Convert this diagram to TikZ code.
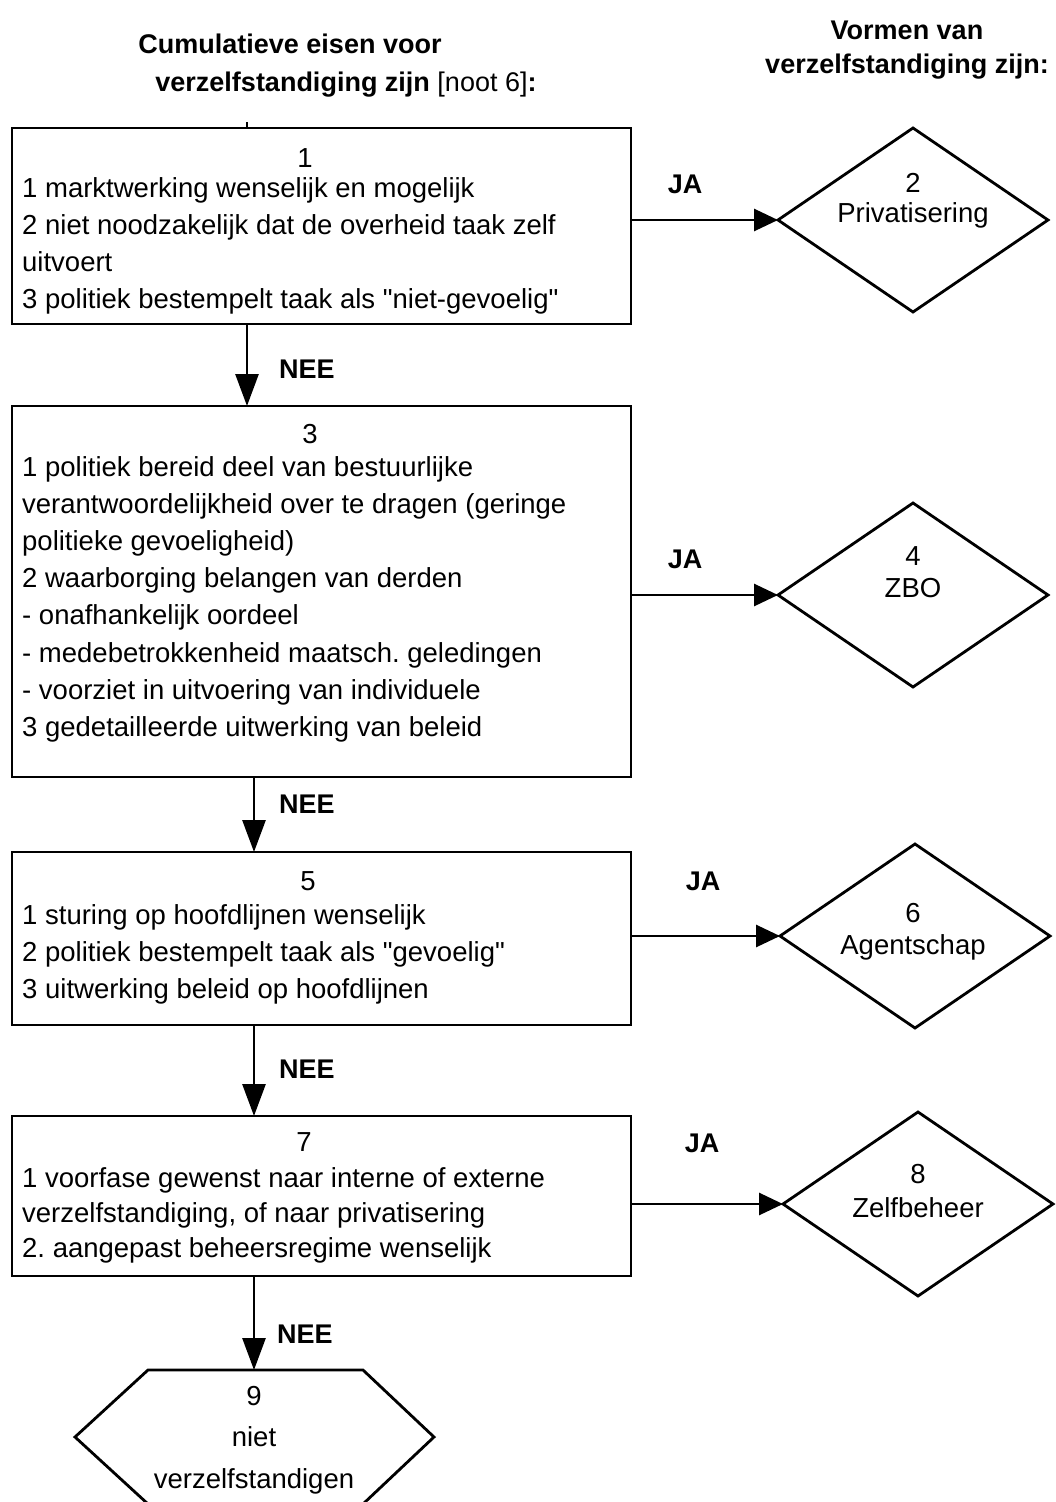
\documentclass[tikz,border=0pt]{standalone}
\usepackage{fontspec}
\setmainfont{Liberation Sans}[Ligatures=TeXOff]
\usetikzlibrary{arrows.meta,shapes.geometric,calc}

\tikzset{
  txt/.style={font=\fontsize{27.5}{37}\selectfont, inner sep=0pt},
  hd/.style={font=\fontsize{27}{32}\selectfont\bfseries, inner sep=0pt},
  lbl/.style={font=\fontsize{27}{32}\selectfont\bfseries, inner sep=0pt, anchor=base},
  box/.style={draw, line width=2.8pt, anchor=north west, inner sep=0pt, outer sep=0pt, minimum width=619pt},
  dia/.style={draw, diamond, line width=2.8pt, minimum width=270pt, minimum height=184pt, inner sep=0pt, outer sep=0pt},
  harrow/.style={line width=2.8pt, -{Triangle[length=24pt,width=22pt]}},
  varrow/.style={line width=2.8pt, -{Triangle[length=32pt,width=23pt]}},
}
\newcommand{\dq}{\symbol{"22}}

\begin{document}
\frenchspacing
\begin{tikzpicture}[x=1pt,y=-1pt]
\useasboundingbox (0,0) rectangle (1055,1502);

% column headings
\node[hd, anchor=base] (hl1) at (290,53) {Cumulatieve eisen voor};
\node[hd, anchor=base] (hl2) at (346,91) {verzelfstandiging zijn {\mdseries [noot 6]}:};
\node[hd, anchor=base] (hr1) at (907,39) {Vormen van};
\node[hd, anchor=base] (hr2) at (907,73) {verzelfstandiging zijn:};

% requirement boxes
\node[box, minimum height=196pt] (b1) at (12,128) {};
\node[box, minimum height=371pt] (b3) at (12,406) {};
\node[box, minimum height=173pt] (b5) at (12,852) {};
\node[box, minimum height=160pt] (b7) at (12,1116) {};

% box contents
\node[txt, anchor=base] (b1n) at (305,167) {1};
\foreach \t [count=\i] in {1 marktwerking wenselijk en mogelijk,
    2 niet noodzakelijk dat de overheid taak zelf,
    uitvoert,
    3 politiek bestempelt taak als \dq niet-gevoelig\dq}
  \node[txt, anchor=base west] (b1t\i) at (22,{197+37*(\i-1)}) {\t};

\node[txt, anchor=base] (b3n) at (310,443) {3};
\foreach \t [count=\i] in {1 politiek bereid deel van bestuurlijke,
    verantwoordelijkheid over te dragen (geringe,
    politieke gevoeligheid),
    2 waarborging belangen van derden,
    - onafhankelijk oordeel,
    - medebetrokkenheid maatsch. geledingen,
    - voorziet in uitvoering van individuele,
    3 gedetailleerde uitwerking van beleid}
  \node[txt, anchor=base west] (b3t\i) at (22,{476+37.2*(\i-1)}) {\t};

\node[txt, anchor=base] (b5n) at (308,890) {5};
\foreach \t [count=\i] in {1 sturing op hoofdlijnen wenselijk,
    2 politiek bestempelt taak als \dq gevoelig\dq,
    3 uitwerking beleid op hoofdlijnen}
  \node[txt, anchor=base west] (b5t\i) at (22,{924+37*(\i-1)}) {\t};

\node[txt, anchor=base] (b7n) at (304,1151) {7};
\foreach \t [count=\i] in {1 voorfase gewenst naar interne of externe,
    {verzelfstandiging, of naar privatisering},
    2. aangepast beheersregime wenselijk}
  \node[txt, anchor=base west] (b7t\i) at (22,{1187+35*(\i-1)}) {\t};

% outcome diamonds
\node[dia] (d2) at (913,220) {};
\node[dia] (d4) at (913,595) {};
\node[dia] (d6) at (915,936) {};
\node[dia] (d8) at (918,1204) {};

\node[txt, anchor=base] (d2n) at (913,192) {2};
\node[txt, anchor=base] (d2t) at (913,222) {Privatisering};
\node[txt, anchor=base] (d4n) at (913,565) {4};
\node[txt, anchor=base] (d4t) at (913,597) {ZBO};
\node[txt, anchor=base] (d6n) at (913,922) {6};
\node[txt, anchor=base] (d6t) at (913,954) {Agentschap};
\node[txt, anchor=base] (d8n) at (918,1183) {8};
\node[txt, anchor=base] (d8t) at (918,1217) {Zelfbeheer};

% final outcome: hexagon
\node[inner sep=0pt, outer sep=0pt, minimum width=215pt, minimum height=134pt] (n9) at (255.5,1437) {};
\draw[line width=2.8pt, line join=miter]
  (n9.north west) -- (n9.north east) -- ($(n9.east)+(71,0)$) --
  (n9.south east) -- (n9.south west) -- ($(n9.west)+(-73,0)$) -- cycle;
\node[txt, align=center, font=\fontsize{27.5}{41.5}\selectfont] (n9t) at (254,1440) {9\\niet\\verzelfstandigen};

% spine of the flow
\coordinate (s1) at (247,0);
\coordinate (s2) at (254,0);
\draw[line width=2.8pt] (s1 |- b1.north) -- ++(0,-6);

% NEE connectors
\draw[varrow] (s1 |- b1.south) -- (s1 |- b3.north);
\draw[varrow] (s2 |- b3.south) -- (s2 |- b5.north);
\draw[varrow] (s2 |- b5.south) -- (s2 |- b7.north);
\draw[varrow] (s2 |- b7.south) -- (s2 |- n9.north);
\node[lbl] (nee1) at (307,378) {NEE};
\node[lbl] (nee2) at (307,813) {NEE};
\node[lbl] (nee3) at (307,1078) {NEE};
\node[lbl] (nee4) at (305,1343) {NEE};

% JA connectors
\draw[harrow] (b1.east |- d2.west) -- (d2.west);
\draw[harrow] (b3.east |- d4.west) -- (d4.west);
\draw[harrow] (b5.east |- d6.west) -- (d6.west);
\draw[harrow] (b7.east |- d8.west) -- (d8.west);
\node[lbl] (ja1) at (685,193) {JA};
\node[lbl] (ja2) at (685,568) {JA};
\node[lbl] (ja3) at (703,890) {JA};
\node[lbl] (ja4) at (702,1152) {JA};
\end{tikzpicture}
\end{document}
